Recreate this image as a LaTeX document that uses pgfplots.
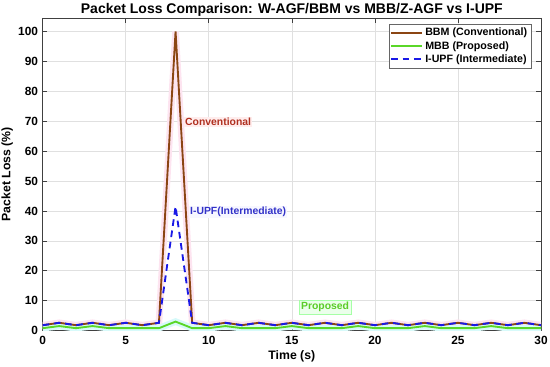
\documentclass[border=0pt]{standalone}
\usepackage{pgfplots}
\pgfplotsset{compat=1.18}
\usepackage{pgfplotstable}
\usepackage{fontspec}
\setmainfont{Liberation Sans}
\definecolor{bbm}{RGB}{139,69,19}
\definecolor{mbb}{RGB}{90,215,40}
\definecolor{iupf}{RGB}{25,25,230}
\definecolor{convtxt}{RGB}{176,48,32}
\definecolor{iupftxt}{RGB}{50,50,200}
\definecolor{proptxt}{RGB}{90,205,40}
\definecolor{pinkband}{RGB}{253,228,240}
\definecolor{cyanband}{RGB}{215,250,250}
\pgfplotstableread{
t BBM MBB IUPF
0 1.8 0.8 1.8
1 2.6 1.5 2.6
2 1.8 0.8 1.8
3 2.6 1.5 2.6
4 1.8 0.8 1.8
5 2.6 0.8 2.6
6 1.8 0.8 1.8
7 2.6 0.8 2.6
8 100 3.0 41.5
9 2.6 0.8 2.6
10 1.8 0.8 1.8
11 2.6 1.5 2.6
12 1.8 0.8 1.8
13 2.6 0.8 2.6
14 1.8 0.8 1.8
15 2.6 1.5 2.6
16 1.8 0.8 1.8
17 2.6 0.8 2.6
18 1.8 0.8 1.8
19 2.6 1.5 2.6
20 1.8 0.8 1.8
21 2.6 0.8 2.6
22 1.8 0.8 1.8
23 2.6 1.5 2.6
24 1.8 0.8 1.8
25 2.6 0.8 2.6
26 1.8 0.8 1.8
27 2.6 1.5 2.6
28 1.8 0.8 1.8
29 2.6 0.8 2.6
30 1.8 0.8 1.8
}\datatable
\begin{document}
\begin{tikzpicture}
\begin{axis}[
  scale only axis,
  width=373.7pt, height=234.4pt,
  xmin=0, xmax=30, ymin=0, ymax=104.5,
  xtick={0,5,...,30}, ytick={0,10,...,100},
  tick align=inside,
  major tick length=3.5pt,
  axis line style={black!75, line width=0.6pt},
  tick style={black!75, line width=0.5pt},
  grid=major,
  major grid style={black!12, line width=0.5pt},
  ticklabel style={font=\fontsize{8.9}{10}\selectfont\bfseries},
  /pgf/number format/assume math mode=true,
  xticklabel style={yshift=-1pt},
  xlabel={\bfseries Time (s)},
  ylabel={\bfseries Packet Loss (\%)},
  label style={font=\fontsize{9.2}{10}\selectfont},
  xlabel style={yshift=3pt},
  ylabel style={yshift=-3pt},
  title={\bfseries Packet Loss Comparison: W-AGF/BBM vs MBB/Z-AGF vs I-UPF},
  title style={font=\fontsize{10.5}{12}\selectfont, anchor=base, yshift=-3pt},
  legend style={at={(rel axis cs:0.981,0.981)}, anchor=north east,
    font=\fontsize{8}{9}\selectfont\bfseries, draw=black!60, line width=0.5pt,
    inner sep=1pt, row sep=-1.5pt, cells={anchor=west}},
  legend image code/.code={\draw[#1] (0cm,0cm) -- (0.8cm,0cm);},
]
\addlegendimage{bbm, line width=1.4pt}
\addlegendentry{BBM (Conventional)}
\addlegendimage{mbb, line width=1.4pt}
\addlegendentry{MBB (Proposed)}
\addlegendimage{iupf, line width=1.4pt, dash pattern=on 5pt off 3.5pt}
\addlegendentry{I-UPF (Intermediate)}
\addplot[draw=pinkband, line width=5pt, forget plot] table[x=t,y=BBM]{\datatable};
\addplot[draw=cyanband, line width=5pt, forget plot] table[x=t,y=MBB]{\datatable};
\addplot[bbm, line width=1.4pt, forget plot] table[x=t,y=BBM]{\datatable};
\addplot[mbb, line width=1.4pt, forget plot] table[x=t,y=MBB]{\datatable};
\addplot[iupf, line width=1.4pt, dash pattern=on 5pt off 3.5pt, forget plot] table[x=t,y=IUPF]{\datatable};
\node[anchor=west, font=\fontsize{7.8}{9}\selectfont\bfseries, text=convtxt, fill=red!7, inner sep=0.8pt] at (axis cs:8.5,69.7) {Conventional};
\node[anchor=west, font=\fontsize{7.8}{9}\selectfont\bfseries, text=iupftxt, fill=blue!3, inner sep=0.8pt] at (axis cs:8.8,39.6) {I-UPF(Intermediate)};
\node[font=\fontsize{7.8}{9}\selectfont\bfseries, text=proptxt, fill=green!8, draw=green!35, inner sep=1.5pt] at (axis cs:17.0,7.9) {Proposed};
\end{axis}
\pgfresetboundingbox
\path ([xshift=-32pt,yshift=-26.6pt]current axis.south west) rectangle ([xshift=6.75pt,yshift=13.5pt]current axis.north east);
\end{tikzpicture}
\end{document}
